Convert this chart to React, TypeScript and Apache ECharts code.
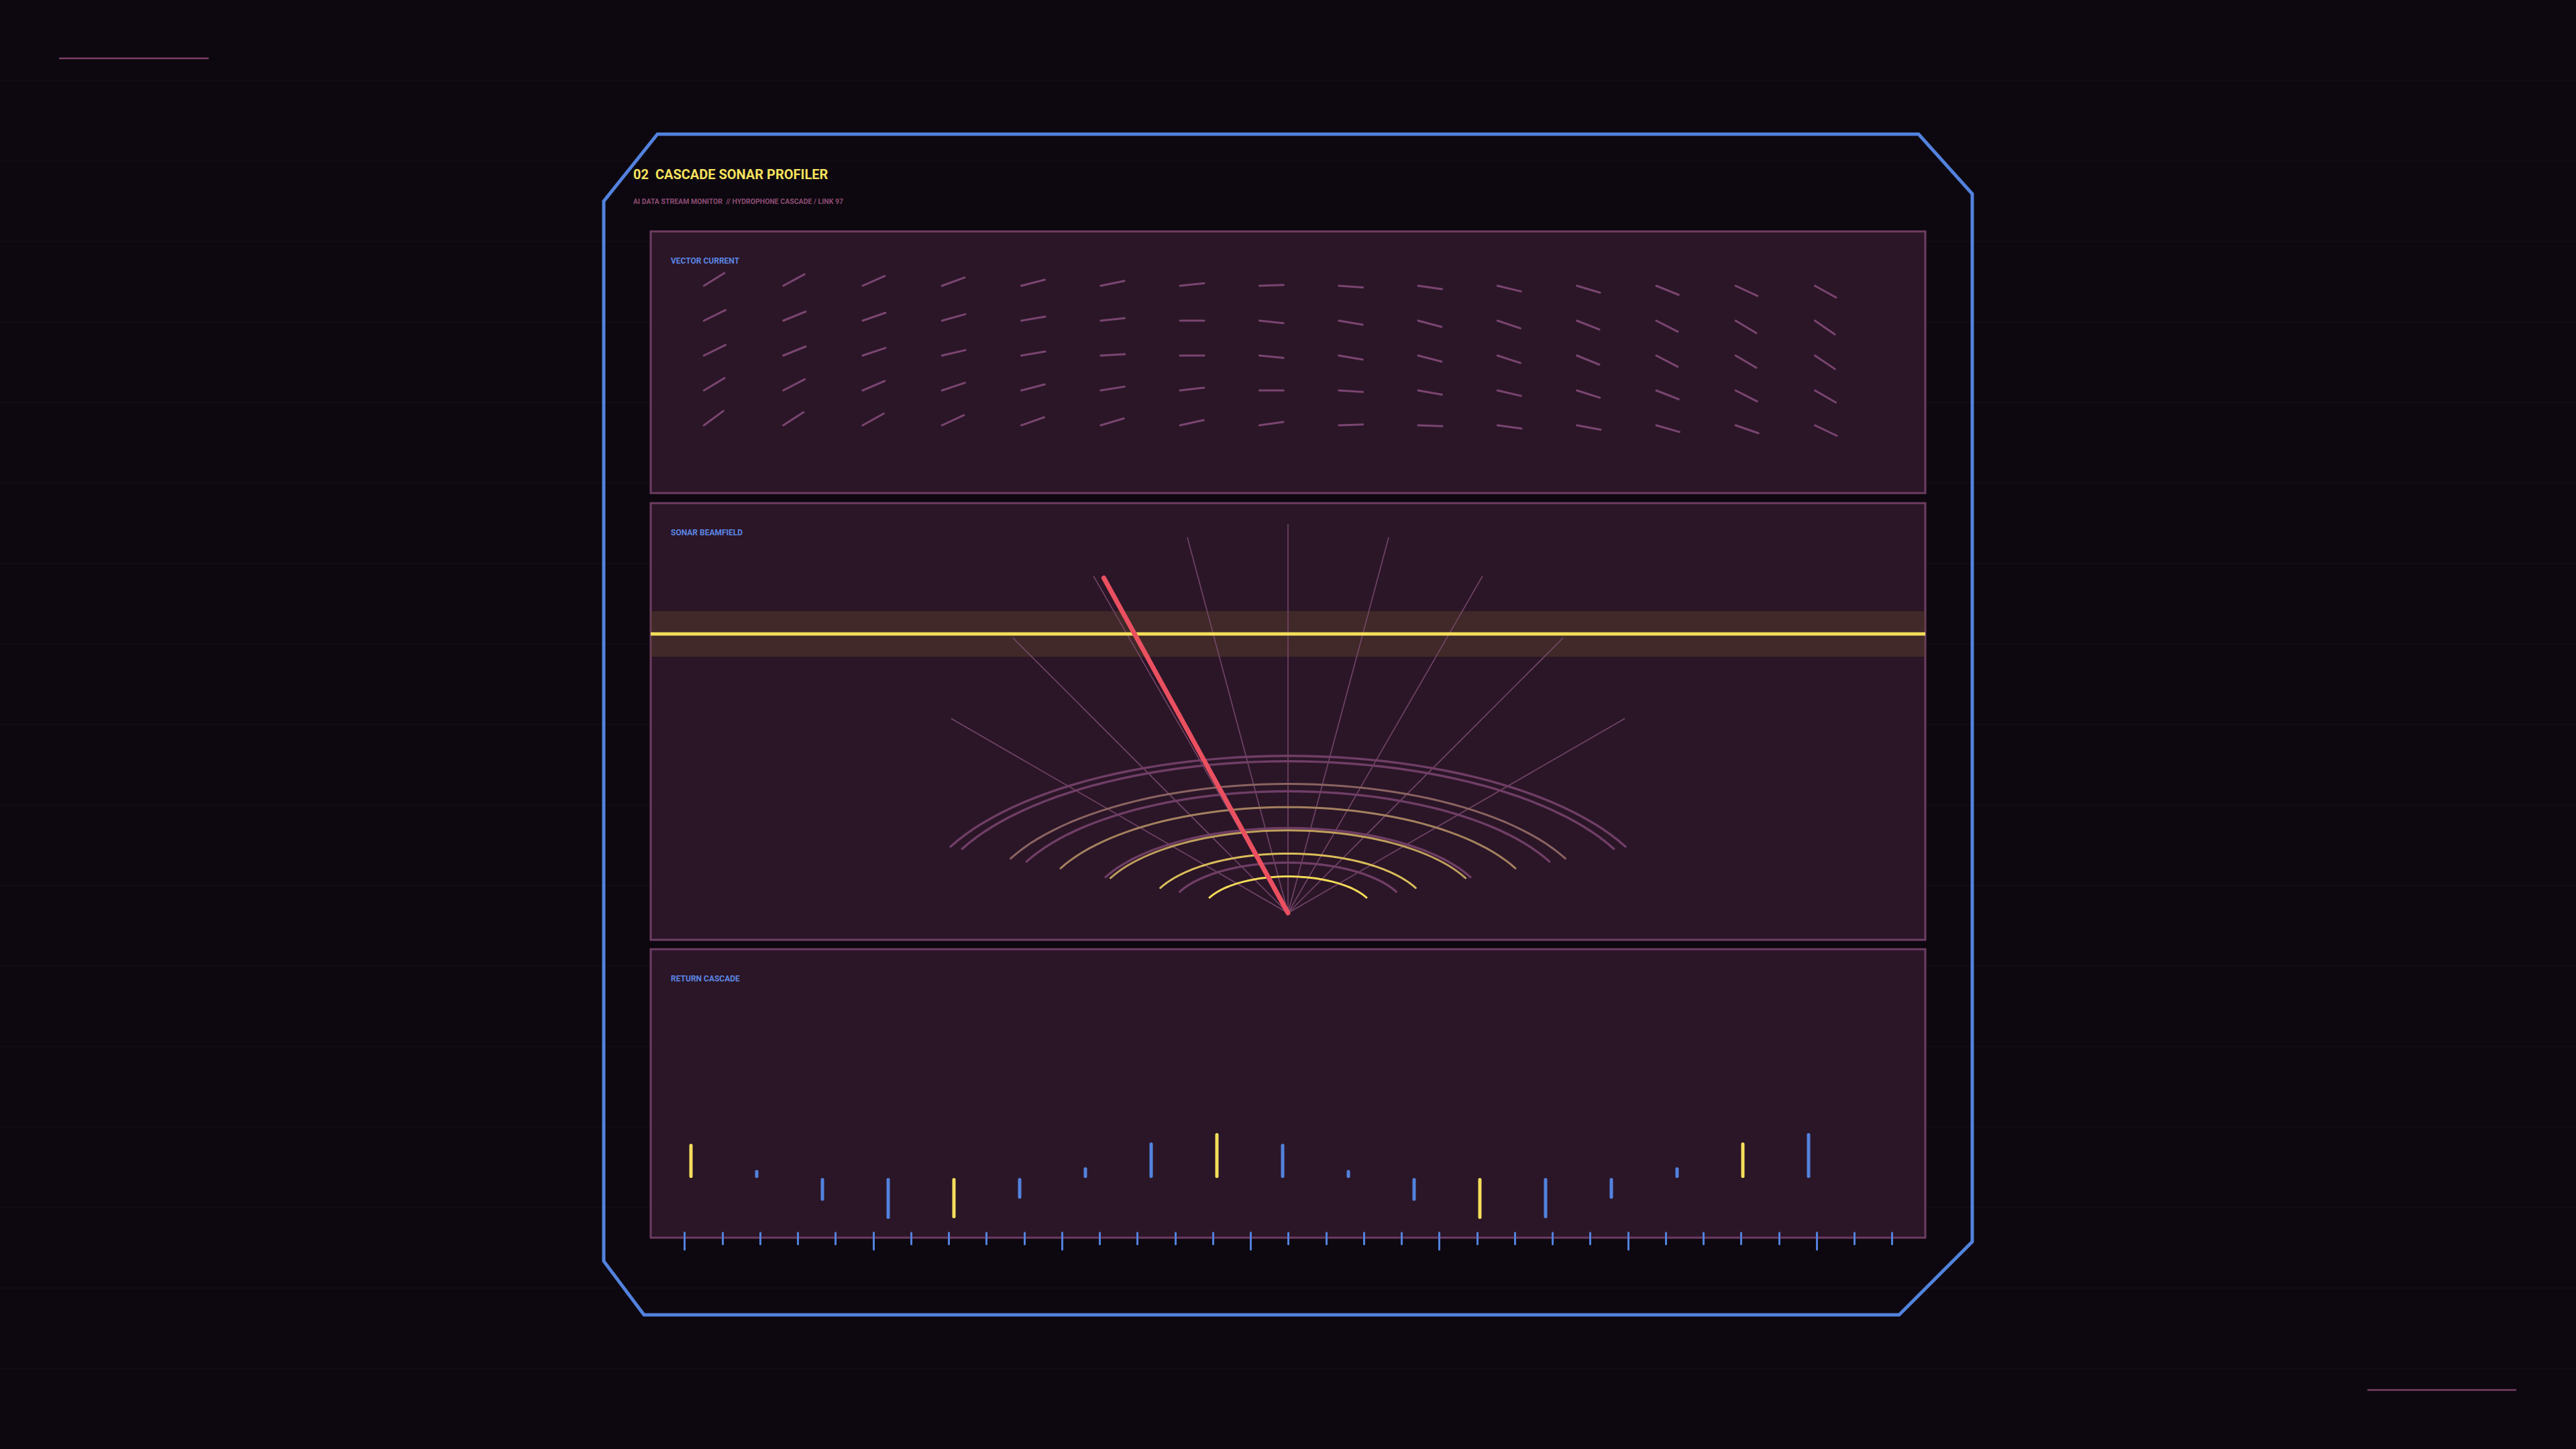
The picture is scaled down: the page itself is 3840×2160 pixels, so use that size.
import React, { useEffect, useRef } from 'react';
import * as echarts from 'echarts';

// ---------- DATA ----------
// Vector current field: heading in degrees (counter-clockwise from east) per column, one array per depth row
const vectorRow1 = [32, 28.5, 24, 20, 14.5, 11.5, 6, 2, -4, -8, -13.5, -16.5, -22, -25, -29];
const vectorRow2 = [26, 22, 19, 15.5, 9.5, 6, 0, -6, -9.5, -15, -18.5, -21.5, -27, -31, -34.5];
const vectorRow3 = [26, 22, 18.5, 13, 9.5, 3, 0, -5.5, -9.5, -14.5, -18, -22, -27.5, -30.5, -34];
const vectorRow4 = [31, 27.5, 23, 18.5, 14.5, 9, 6.5, 0, -3.5, -10, -13, -17.5, -21.5, -27, -30];
const vectorRow5 = [36.5, 33, 29, 25, 19.5, 16.5, 12.5, 8, 2, -2, -7.5, -10.5, -16, -19, -25.5];

// Sonar beamfield
const beamAngles = [-60, -45, -30, -15, 0, 15, 30, 45, 60];
const beamRange = 580;
const pulseRings = [129, 210, 292, 374, 456];
const echoRings = [178, 300, 430, 536, 555];
const needleBearing = -28.8;
const needleRange = 570;
const thresholdLevel = 416;
const thresholdBand = [382, 450];

// Return cascade
const returnBins = ['B01', 'B02', 'B03', 'B04', 'B05', 'B06', 'B07', 'B08', 'B09', 'B10', 'B11', 'B12', 'B13', 'B14', 'B15', 'B16', 'B17', 'B18'];
const returnCascade = [51, 12, -34, -61, -60, -31, 16, 53, 67, 51, 12, -34, -61, -60, -31, 16, 53, 67];
const scaleTicks = ['0', '1', '2', '3', '4', '5', '6', '7', '8', '9', '10', '11', '12', '13', '14', '15', '16', '17', '18', '19', '20', '21', '22', '23', '24', '25', '26', '27', '28', '29', '30', '31', '32'];

// ---------- STYLE ----------
const W = 3840;
const H = 2160;
const BG = '#0d080f';
const PANEL = '#2b1628';
const PANEL_EDGE = '#6e3d63';
const BLUE = '#5282dd';
const YELLOW = '#f5df5a';
const VEC = '#7a4570';
const SPOKE = '#7a4a6e';
const ECHO = '#6f3e65';
const RED = '#ea5060';
const VEC_LEN = 36;
const RING_FLATTEN = 0.422;
const ARC_FROM = 25;
const ARC_TO = 155;
const FONT = 'Roboto, "Noto Sans", sans-serif';
const PULSE_NEAR = [244, 218, 88];
const PULSE_FAR = [139, 100, 96];

const vectorRows = [vectorRow1, vectorRow2, vectorRow3, vectorRow4, vectorRow5];
const vectorData = vectorRows.flatMap((row, r) => row.map((deg, c) => [c, r, deg]));

function pulseColor(i: number) {
  const t = i / (pulseRings.length - 1);
  const c = PULSE_NEAR.map((v, k) => Math.round(v + (PULSE_FAR[k] - v) * t));
  return `rgb(${c[0]},${c[1]},${c[2]})`;
}

function ringRenderer(colorFn: (i: number) => string, width: number) {
  return (params: any, api: any) => {
    const r = api.value(0);
    const pts: number[][] = [];
    for (let t = ARC_FROM; t <= ARC_TO + 0.001; t += 2.5) {
      const rad = (t * Math.PI) / 180;
      pts.push(api.coord([r * Math.cos(rad), r * RING_FLATTEN * Math.sin(rad)]));
    }
    return {
      type: 'polyline',
      shape: { points: pts },
      style: { stroke: colorFn(params.dataIndex), lineWidth: width, fill: 'none', lineCap: 'round' },
    };
  };
}

function buildOption(): any {
  const bgLines: any[] = [];
  for (let k = 1; k < 18; k++) {
    bgLines.push({
      type: 'line',
      z: 0,
      silent: true,
      shape: { x1: 0, y1: k * 120, x2: W, y2: k * 120 },
      style: { stroke: 'rgba(120,60,100,0.07)', lineWidth: 2 },
    });
  }
  const panel = (y: number, h: number) => ({
    type: 'rect',
    z: 1,
    silent: true,
    shape: { x: 970, y, width: 1900, height: h },
    style: { fill: PANEL, stroke: PANEL_EDGE, lineWidth: 3 },
  });
  const label = (text: string, x: number, y: number, font: string, fill: string) => ({
    type: 'text',
    z: 10,
    silent: true,
    x,
    y,
    style: { text, font, fill, align: 'left', verticalAlign: 'middle', textAlign: 'left', textVerticalAlign: 'middle' },
  });

  const tickAxisBase = {
    gridIndex: 3,
    type: 'category',
    data: scaleTicks,
    boundaryGap: false,
    position: 'bottom',
    axisLine: { show: false },
    axisLabel: { show: false },
    splitLine: { show: false },
    z: 6,
  };

  return {
    animation: false,
    backgroundColor: BG,
    grid: [
      { left: 1049.3, top: 426, width: 1656.2, height: 208, show: false },
      { left: 970, top: 750, width: 1900, height: 651, show: false },
      { left: 1030, top: 1456, width: 1666, height: 400, show: false },
      { left: 1020.5, top: 1790, width: 1800, height: 47.7, show: false },
    ],
    xAxis: [
      { gridIndex: 0, type: 'value', min: 0, max: 14, show: false },
      { gridIndex: 1, type: 'value', min: -950, max: 950, show: false },
      { gridIndex: 2, type: 'category', data: returnBins, boundaryGap: false, show: false },
      {
        ...tickAxisBase,
        offset: 4.3,
        axisTick: { show: true, interval: 0, length: 17, lineStyle: { color: BLUE, width: 3, cap: 'round' } },
      },
      {
        ...tickAxisBase,
        offset: 0,
        axisTick: {
          show: true,
          interval: (i: number) => i % 5 === 0,
          length: 25,
          lineStyle: { color: BLUE, width: 3, cap: 'round' },
        },
      },
    ],
    yAxis: [
      { gridIndex: 0, type: 'value', min: 0, max: 4, inverse: true, show: false },
      { gridIndex: 1, type: 'value', min: -40, max: 611, show: false },
      { gridIndex: 2, type: 'value', min: -100, max: 300, show: false },
      { gridIndex: 3, type: 'value', min: 0, max: 1, show: false },
    ],
    series: [
      {
        name: 'Vector current',
        type: 'custom',
        coordinateSystem: 'cartesian2d',
        xAxisIndex: 0,
        yAxisIndex: 0,
        silent: true,
        z: 3,
        data: vectorData,
        renderItem: (params: any, api: any) => {
          const p = api.coord([api.value(0), api.value(1)]);
          const a = (api.value(2) * Math.PI) / 180;
          return {
            type: 'line',
            shape: { x1: p[0], y1: p[1], x2: p[0] + VEC_LEN * Math.cos(a), y2: p[1] - VEC_LEN * Math.sin(a) },
            style: { stroke: VEC, lineWidth: 3, lineCap: 'round' },
          };
        },
      },
      {
        name: 'Threshold band',
        type: 'custom',
        coordinateSystem: 'cartesian2d',
        xAxisIndex: 1,
        yAxisIndex: 1,
        silent: true,
        z: 2,
        data: [[thresholdLevel, thresholdBand[0], thresholdBand[1]]],
        renderItem: (params: any, api: any) => {
          const a = api.coord([-950, api.value(2)]);
          const b = api.coord([950, api.value(1)]);
          return {
            type: 'rect',
            shape: { x: a[0], y: a[1], width: b[0] - a[0], height: b[1] - a[1] },
            style: { fill: 'rgba(92,70,40,0.42)' },
          };
        },
      },
      {
        name: 'Beams',
        type: 'custom',
        coordinateSystem: 'cartesian2d',
        xAxisIndex: 1,
        yAxisIndex: 1,
        silent: true,
        z: 3,
        data: beamAngles.map((a) => [a, beamRange]),
        renderItem: (params: any, api: any) => {
          const a = (api.value(0) * Math.PI) / 180;
          const L = api.value(1);
          const o = api.coord([0, 0]);
          const e = api.coord([L * Math.sin(a), L * Math.cos(a)]);
          return {
            type: 'line',
            shape: { x1: o[0], y1: o[1], x2: e[0], y2: e[1] },
            style: { stroke: SPOKE, lineWidth: 1.6, opacity: 0.9 },
          };
        },
      },
      {
        name: 'Echo rings',
        type: 'custom',
        coordinateSystem: 'cartesian2d',
        xAxisIndex: 1,
        yAxisIndex: 1,
        silent: true,
        z: 3,
        data: echoRings.map((r, i) => [r, i]),
        renderItem: ringRenderer(() => ECHO, 3.4),
      },
      {
        name: 'Pulse rings',
        type: 'custom',
        coordinateSystem: 'cartesian2d',
        xAxisIndex: 1,
        yAxisIndex: 1,
        silent: true,
        z: 3,
        data: pulseRings.map((r, i) => [r, i]),
        renderItem: ringRenderer(pulseColor, 3),
      },
      {
        name: 'Threshold',
        type: 'custom',
        coordinateSystem: 'cartesian2d',
        xAxisIndex: 1,
        yAxisIndex: 1,
        silent: true,
        z: 4,
        data: [[thresholdLevel]],
        renderItem: (params: any, api: any) => {
          const a = api.coord([-950, api.value(0)]);
          const b = api.coord([950, api.value(0)]);
          return {
            type: 'line',
            shape: { x1: a[0], y1: a[1], x2: b[0], y2: b[1] },
            style: { stroke: YELLOW, lineWidth: 5 },
          };
        },
      },
      {
        name: 'Needle',
        type: 'custom',
        coordinateSystem: 'cartesian2d',
        xAxisIndex: 1,
        yAxisIndex: 1,
        silent: true,
        z: 5,
        data: [[needleBearing, needleRange]],
        renderItem: (params: any, api: any) => {
          const a = (api.value(0) * Math.PI) / 180;
          const L = api.value(1);
          const o = api.coord([0, 0]);
          const e = api.coord([L * Math.sin(a), L * Math.cos(a)]);
          return {
            type: 'line',
            shape: { x1: o[0], y1: o[1], x2: e[0], y2: e[1] },
            style: { stroke: RED, lineWidth: 7, lineCap: 'round' },
          };
        },
      },
      {
        name: 'Return cascade',
        type: 'bar',
        xAxisIndex: 2,
        yAxisIndex: 2,
        silent: true,
        z: 3,
        barWidth: 5,
        data: returnCascade,
        itemStyle: {
          color: (p: any) => (p.dataIndex % 4 === 0 ? YELLOW : BLUE),
          borderRadius: 2.5,
        },
      },
    ],
    graphic: {
      elements: [
        ...bgLines,
        {
          type: 'line',
          z: 1,
          silent: true,
          shape: { x1: 88, y1: 87, x2: 311, y2: 87 },
          style: { stroke: '#7c3f66', lineWidth: 2.5 },
        },
        {
          type: 'line',
          z: 1,
          silent: true,
          shape: { x1: 3529, y1: 2072, x2: 3751, y2: 2072 },
          style: { stroke: '#7c3f66', lineWidth: 2.5 },
        },
        panel(345, 390),
        panel(750, 651),
        panel(1415, 430),
        {
          type: 'polygon',
          z: 10,
          silent: true,
          shape: {
            points: [
              [980, 200],
              [2860, 200],
              [2940, 289],
              [2940, 1851],
              [2831, 1960],
              [960, 1960],
              [900, 1880],
              [900, 300],
            ],
          },
          style: { fill: 'none', stroke: BLUE, lineWidth: 5, lineJoin: 'miter' },
        },
        label('02  CASCADE SONAR PROFILER', 944, 260, `bold 20px ${FONT}`, '#f7e25e'),
        label('AI DATA STREAM MONITOR  // HYDROPHONE CASCADE / LINK 97', 944, 300, `bold 10.5px ${FONT}`, '#8c4c74'),
        label('VECTOR CURRENT', 1000, 389, `bold 12px ${FONT}`, '#5b86e3'),
        label('SONAR BEAMFIELD', 1000, 794, `bold 12px ${FONT}`, '#5b86e3'),
        label('RETURN CASCADE', 1000, 1459, `bold 12px ${FONT}`, '#5b86e3'),
      ],
    },
  };
}

export default function App() {
  const ref = useRef<HTMLDivElement>(null);
  useEffect(() => {
    document.body.style.margin = '0';
    document.body.style.background = BG;
    const chart = echarts.init(ref.current as HTMLDivElement, null, { renderer: 'svg', width: W, height: H });
    chart.setOption(buildOption());
    return () => {
      chart.dispose();
    };
  }, []);
  return <div ref={ref} style={{ width: W, height: H }} />;
}
